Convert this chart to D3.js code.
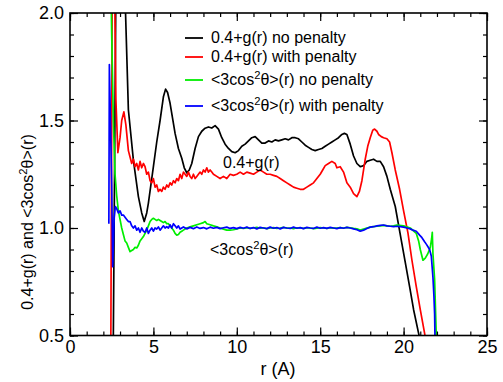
<!DOCTYPE html>
<html><head><meta charset="utf-8">
<script src="https://cdn.jsdelivr.net/npm/d3@7"></script>
<style>body{margin:0;background:#fff}svg{display:block}text{font-family:"Liberation Sans",Arial,sans-serif}</style>
</head><body>
<svg id="c" width="503" height="382"></svg>
<script>
// ---- data ----
const xTicks = [0,5,10,15,20,25];
const yTicks = [0.5,1.0,1.5,2.0];
const seriesNames = ["0.4+g(r) no penalty","0.4+g(r) with penalty","<3cos²θ>(r) no penalty","<3cos²θ>(r) with penalty"];
const seriesColors = ["#000000","#ff0000","#00ee00","#0000ff"];

const rBlack = [2.58,2.75,3.0,3.33,3.5,3.8,4.1,4.3,4.45,4.6,4.7,5.0,5.2,5.4,5.6,5.73,5.85,6.0,6.15,6.3,6.5,6.7,6.85,7.0,7.15,7.3,7.5,7.7,7.9,8.1,8.3,8.5,8.7,8.9,9.1,9.3,9.5,9.7,9.9,10.1,10.3,10.5,10.7,10.9,11.1,11.3,11.5,11.7,11.9,12.1,12.3,12.5,12.7,12.9,13.1,13.3,13.5,13.7,13.9,14.1,14.3,14.5,14.7,14.9,15.1,15.3,15.5,15.7,15.9,16.1,16.3,16.45,16.6,16.8,17.0,17.2,17.4,17.6,17.8,18.0,18.2,18.4,18.6,18.8,19.0,19.2,19.5,19.86,20.1,20.36,20.6,20.9,21.1];
const gNoPen = [0.3,2.1,3.5,2.0,1.55,1.316,1.146,1.07,1.03,1.07,1.116,1.285,1.40,1.50,1.61,1.646,1.63,1.58,1.51,1.44,1.37,1.324,1.28,1.257,1.27,1.30,1.37,1.425,1.45,1.464,1.47,1.465,1.476,1.46,1.42,1.39,1.37,1.355,1.35,1.36,1.38,1.39,1.405,1.42,1.425,1.41,1.395,1.395,1.405,1.40,1.41,1.405,1.41,1.415,1.41,1.42,1.42,1.415,1.40,1.385,1.375,1.365,1.36,1.365,1.37,1.38,1.39,1.40,1.41,1.42,1.435,1.44,1.435,1.39,1.335,1.30,1.285,1.29,1.31,1.315,1.32,1.31,1.31,1.285,1.24,1.18,1.10,0.944,0.84,0.727,0.62,0.51,0.44];

const rRed = [2.44,2.55,2.65,2.75,2.87,3.0,3.1,3.23,3.35,3.5,3.6,3.7,3.8,3.9,4.0,4.1,4.2,4.3,4.4,4.5,4.6,4.7,4.8,4.9,5.0,5.1,5.2,5.3,5.4,5.5,5.6,5.7,5.8,5.9,6.0,6.1,6.2,6.3,6.4,6.5,6.6,6.7,6.8,6.9,7.0,7.1,7.2,7.3,7.4,7.5,7.6,7.7,7.8,7.9,8.0,8.1,8.2,8.3,8.4,8.5,8.6,8.8,9.0,9.2,9.4,9.6,9.8,10.0,10.2,10.4,10.6,10.8,11.0,11.2,11.4,11.6,11.8,12.0,12.2,12.4,12.6,12.8,13.0,13.2,13.4,13.6,13.8,14.0,14.2,14.4,14.6,14.8,15.0,15.15,15.3,15.5,15.7,15.9,16.0,16.2,16.4,16.6,16.8,17.0,17.2,17.35,17.5,17.7,17.85,18.0,18.15,18.26,18.4,18.5,18.66,18.8,19.0,19.16,19.3,19.5,19.76,20.0,20.26,20.5,20.76,21.0,21.26,21.4];
const gPen = [0.3,2.5,2.3,1.6,1.35,1.42,1.5,1.54,1.48,1.36,1.33,1.30,1.32,1.285,1.30,1.27,1.31,1.28,1.30,1.285,1.25,1.26,1.22,1.21,1.23,1.19,1.20,1.17,1.18,1.17,1.19,1.18,1.20,1.19,1.21,1.20,1.22,1.21,1.23,1.22,1.25,1.23,1.26,1.25,1.24,1.26,1.24,1.23,1.25,1.23,1.24,1.25,1.26,1.25,1.27,1.26,1.28,1.26,1.27,1.26,1.25,1.24,1.23,1.24,1.23,1.25,1.245,1.25,1.26,1.25,1.26,1.255,1.25,1.26,1.27,1.26,1.25,1.25,1.245,1.24,1.23,1.22,1.21,1.20,1.19,1.185,1.18,1.18,1.19,1.20,1.21,1.23,1.25,1.27,1.29,1.30,1.31,1.30,1.28,1.285,1.26,1.21,1.19,1.16,1.146,1.17,1.22,1.32,1.38,1.42,1.455,1.46,1.45,1.435,1.425,1.42,1.415,1.40,1.35,1.27,1.18,1.08,0.977,0.85,0.727,0.62,0.51,0.44];

const rGreen = [2.38,2.5,2.6,2.7,2.8,2.9,3.0,3.1,3.2,3.3,3.4,3.5,3.6,3.7,3.8,3.9,4.0,4.1,4.2,4.3,4.4,4.5,4.6,4.7,4.8,4.9,5.0,5.1,5.2,5.3,5.4,5.5,5.6,5.7,5.8,5.9,6.0,6.1,6.2,6.3,6.4,6.5,6.6,6.7,6.8,6.9,7.0,7.2,7.4,7.6,7.8,8.0,8.1,8.2,8.4,8.6,8.8,9.0,9.2,9.4,9.6,9.8,10.0,10.2,10.4,10.6,10.8,11.0,11.2,11.4,11.6,11.8,12.0,12.2,12.4,12.6,12.8,13.0,13.2,13.4,13.6,13.8,14.0,14.2,14.4,14.6,14.8,15.0,15.2,15.4,15.6,15.8,16.0,16.2,16.4,16.6,16.8,17.0,17.2,17.4,17.6,17.8,18.0,18.2,18.4,18.6,18.8,19.0,19.2,19.4,19.6,20.0,20.4,20.76,20.9,21.0,21.16,21.3,21.45,21.6,21.68,21.72,21.76,21.86,21.96,22.0];
const cosNoPen = [2.5,1.9,1.5,1.25,1.15,1.08,1.04,1.0,0.97,0.94,0.93,0.91,0.89,0.895,0.9,0.91,0.907,0.92,0.94,0.95,0.96,0.975,0.99,1.01,1.03,1.04,1.045,1.04,1.035,1.04,1.035,1.03,1.025,1.03,1.02,1.02,1.01,1.0,0.99,0.975,0.967,0.97,0.98,0.985,0.99,0.995,1.0,1.005,1.01,1.015,1.02,1.025,1.03,1.02,1.015,1.01,1.006,1.0,0.995,0.99,0.99,0.992,0.996,1.0,0.998,1.002,0.998,1.0,1.003,0.999,1.001,0.997,1.0,1.002,0.998,1.0,1.003,0.999,1.0,0.997,1.001,1.0,0.998,1.001,1.0,0.997,0.999,1.002,1.0,0.998,1.001,0.999,1.0,1.002,1.0,1.003,1.001,0.998,0.996,0.99,0.995,1.0,1.004,1.006,1.008,1.01,1.012,1.01,1.008,1.01,1.014,1.01,1.0,0.975,0.94,0.9,0.85,0.86,0.88,0.91,0.95,0.98,0.88,0.76,0.5,0.4];

const rBlue = [2.33,2.36,2.5,2.56,2.65,2.72,2.8,2.9,3.0,3.1,3.2,3.3,3.4,3.5,3.6,3.7,3.8,3.9,4.0,4.1,4.2,4.3,4.4,4.5,4.6,4.7,4.8,4.9,5.0,5.1,5.2,5.3,5.4,5.5,5.6,5.7,5.8,5.9,6.0,6.1,6.2,6.3,6.4,6.5,6.6,6.7,6.8,7.0,7.2,7.4,7.6,7.8,8.0,8.2,8.4,8.6,8.8,9.0,9.2,9.4,9.6,9.8,10.0,10.2,10.4,10.6,10.8,11.0,11.2,11.4,11.6,11.8,12.0,12.2,12.4,12.6,12.8,13.0,13.2,13.4,13.6,13.8,14.0,14.2,14.4,14.6,14.8,15.0,15.2,15.4,15.6,15.8,16.0,16.2,16.4,16.6,16.8,17.0,17.2,17.4,17.6,17.8,18.0,18.2,18.4,18.6,18.8,19.0,19.2,19.4,19.6,19.8,20.0,20.2,20.4,20.56,20.76,20.96,21.1,21.26,21.36,21.46,21.56,21.66,21.76,21.82,21.86,21.9];
const cosPen = [1.02,1.76,1.2,0.82,1.05,1.10,1.09,1.07,1.08,1.06,1.06,1.05,1.04,1.03,1.03,1.01,1.0,1.01,0.99,1.0,0.98,1.0,0.985,0.98,1.0,0.975,0.99,1.0,0.985,1.0,0.995,1.005,0.99,1.0,1.01,1.0,1.006,1.0,1.015,1.0,1.02,1.01,1.0,1.01,0.995,1.0,1.005,0.996,1.003,0.997,1.005,0.998,1.002,0.996,1.004,0.999,1.003,0.997,1.001,1.004,0.998,1.002,0.997,1.003,0.999,1.004,0.998,1.002,0.996,1.003,1.0,0.997,1.004,0.999,1.002,0.996,1.003,1.0,0.998,1.004,0.999,1.002,0.997,1.003,1.0,0.998,1.004,0.999,1.002,0.998,1.003,1.0,0.997,1.002,0.999,1.003,1.0,0.996,0.992,0.985,0.99,0.998,1.004,1.006,1.01,1.012,1.014,1.01,1.008,1.006,1.008,1.006,1.004,1.0,0.996,0.99,0.985,0.967,0.955,0.936,0.925,0.913,0.9,0.87,0.77,0.68,0.6,0.4];

const series = [
  {r:rBlack, v:gNoPen},
  {r:rRed, v:gPen},
  {r:rGreen, v:cosNoPen},
  {r:rBlue, v:cosPen}
];

// ---- layout ----
const L=70, R=487, T=13, B=335.5;
const svg = d3.select("#c");
const x = d3.scaleLinear().domain([0,25]).range([L,R]);
const y = d3.scaleLinear().domain([0.5,2.0]).range([B,T]);

svg.append("defs").append("clipPath").attr("id","clip")
  .append("rect").attr("x",L).attr("y",T).attr("width",R-L).attr("height",B-T);

const line = d3.line().x(d=>x(d[0])).y(d=>y(d[1]));
const g = svg.append("g").attr("clip-path","url(#clip)");
series.forEach((s,i)=>{
  g.append("path").datum(s.r.map((r,j)=>[r,s.v[j]]))
    .attr("d",line).attr("fill","none").attr("stroke",seriesColors[i])
    .attr("stroke-width",1.7).attr("stroke-linejoin","round");
});

// ---- axes ----
const minorX = d3.range(0,26,1), minorY = d3.range(0.5,2.001,0.1);
function styleAx(sel){ sel.select(".domain").remove(); sel.selectAll("line").attr("stroke","#000").attr("stroke-width",1.2);
  sel.selectAll("text").attr("fill","#000").style("font-size","18px"); }
svg.append("g").attr("transform",`translate(0,${B})`).call(d3.axisBottom(x).tickValues(minorX).tickSize(-4).tickFormat("")).call(styleAx);
svg.append("g").attr("transform",`translate(0,${T})`).call(d3.axisTop(x).tickValues(minorX).tickSize(-4).tickFormat("")).call(styleAx);
svg.append("g").attr("transform",`translate(${L},0)`).call(d3.axisLeft(y).tickValues(minorY).tickSize(-4).tickFormat("")).call(styleAx);
svg.append("g").attr("transform",`translate(${R},0)`).call(d3.axisRight(y).tickValues(minorY).tickSize(-4).tickFormat("")).call(styleAx);
svg.append("g").attr("transform",`translate(0,${B})`).call(d3.axisBottom(x).tickValues(xTicks).tickSize(-8).tickPadding(5).tickFormat(d3.format("d"))).call(styleAx);
svg.append("g").attr("transform",`translate(0,${T})`).call(d3.axisTop(x).tickValues(xTicks).tickSize(-8).tickFormat("")).call(styleAx);
svg.append("g").attr("transform",`translate(${L},0)`).call(d3.axisLeft(y).tickValues(yTicks).tickSize(-8).tickPadding(6).tickFormat(d3.format(".1f"))).call(styleAx);
svg.append("g").attr("transform",`translate(${R},0)`).call(d3.axisRight(y).tickValues(yTicks).tickSize(-8).tickFormat("")).call(styleAx);
svg.append("rect").attr("x",L).attr("y",T).attr("width",R-L).attr("height",B-T)
  .attr("fill","none").attr("stroke","#000").attr("stroke-width",1.6);

// ---- labels ----
function cosText(t, prefix, suffix){
  if(prefix) t.append("tspan").text(prefix);
  t.append("tspan").text("<3cos");
  t.append("tspan").attr("dy",-6).style("font-size","0.7em").text("2");
  t.append("tspan").attr("dy",6).text("θ>(r)" + (suffix||""));
}
svg.append("text").attr("x",278).attr("y",375).attr("text-anchor","middle").style("font-size","18px").text("r (A)");
const yl = svg.append("text").attr("transform","translate(33,222) rotate(-90)").attr("text-anchor","middle").style("font-size","16px");
cosText(yl,"0.4+g(r) and ","");

svg.append("text").attr("x",223).attr("y",168).style("font-size","16px").text("0.4+g(r)");
cosText(svg.append("text").attr("x",210).attr("y",255).style("font-size","16px"),"","");

// ---- legend ----
const legY = [38,57,80,106];
seriesNames.forEach((n,i)=>{
  svg.append("line").attr("x1",185).attr("x2",203).attr("y1",legY[i]).attr("y2",legY[i])
    .attr("stroke",seriesColors[i]).attr("stroke-width",1.8);
  const t = svg.append("text").attr("x",211).attr("y",legY[i]+5).style("font-size","16px");
  if(i<2) t.text(n);
  else cosText(t,"",n.replace("<3cos²θ>(r)",""));
});
</script>
</body></html>
